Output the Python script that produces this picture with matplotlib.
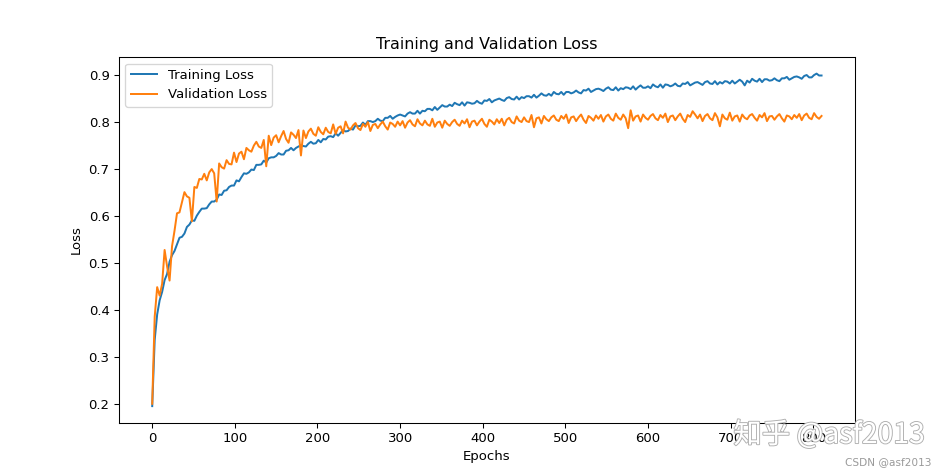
import matplotlib
matplotlib.use("Agg")
import matplotlib.pyplot as plt
import matplotlib.patheffects as pe

plt.rcParams['font.family'] = ['DejaVu Sans', 'Noto Sans CJK SC']

epochs = list(range(0, 811, 3))

training_loss = [
    0.195, 0.336, 0.390, 0.420, 0.438, 0.463, 0.476, 0.502, 0.516, 0.525,
    0.539, 0.553, 0.555, 0.562, 0.576, 0.581, 0.590, 0.589, 0.600, 0.608,
    0.615, 0.615, 0.616, 0.624, 0.630, 0.630, 0.634, 0.645, 0.644, 0.653,
    0.654, 0.661, 0.664, 0.664, 0.675, 0.673, 0.682, 0.690, 0.689, 0.692,
    0.698, 0.697, 0.708, 0.708, 0.709, 0.717, 0.713, 0.722, 0.724, 0.724,
    0.727, 0.733, 0.730, 0.730, 0.738, 0.739, 0.744, 0.739, 0.744, 0.747,
    0.750, 0.748, 0.747, 0.753, 0.757, 0.753, 0.754, 0.761, 0.756, 0.763,
    0.762, 0.768, 0.769, 0.767, 0.775, 0.770, 0.776, 0.782, 0.779, 0.780,
    0.785, 0.783, 0.792, 0.790, 0.791, 0.798, 0.793, 0.801, 0.801, 0.799,
    0.801, 0.806, 0.802, 0.801, 0.808, 0.808, 0.812, 0.806, 0.810, 0.813,
    0.815, 0.813, 0.811, 0.817, 0.820, 0.817, 0.817, 0.823, 0.817, 0.823,
    0.822, 0.827, 0.827, 0.824, 0.831, 0.825, 0.830, 0.835, 0.832, 0.832,
    0.836, 0.833, 0.840, 0.837, 0.835, 0.841, 0.834, 0.841, 0.840, 0.838,
    0.839, 0.844, 0.840, 0.838, 0.845, 0.844, 0.848, 0.841, 0.845, 0.847,
    0.849, 0.846, 0.844, 0.850, 0.852, 0.848, 0.847, 0.853, 0.847, 0.852,
    0.850, 0.854, 0.854, 0.851, 0.857, 0.851, 0.855, 0.860, 0.856, 0.855,
    0.859, 0.855, 0.863, 0.859, 0.858, 0.863, 0.857, 0.863, 0.863, 0.860,
    0.862, 0.866, 0.862, 0.860, 0.867, 0.866, 0.870, 0.863, 0.866, 0.869,
    0.870, 0.868, 0.865, 0.870, 0.873, 0.868, 0.867, 0.873, 0.866, 0.871,
    0.869, 0.873, 0.872, 0.869, 0.875, 0.868, 0.873, 0.877, 0.872, 0.872,
    0.875, 0.871, 0.879, 0.875, 0.873, 0.879, 0.872, 0.879, 0.878, 0.875,
    0.877, 0.881, 0.876, 0.875, 0.881, 0.880, 0.884, 0.877, 0.880, 0.883,
    0.884, 0.881, 0.878, 0.884, 0.886, 0.881, 0.880, 0.886, 0.879, 0.884,
    0.881, 0.886, 0.885, 0.881, 0.887, 0.881, 0.885, 0.889, 0.885, 0.877,
    0.887, 0.883, 0.891, 0.887, 0.885, 0.891, 0.884, 0.890, 0.890, 0.887,
    0.888, 0.892, 0.888, 0.886, 0.892, 0.892, 0.895, 0.889, 0.892, 0.895,
    0.896, 0.894, 0.891, 0.897, 0.899, 0.894, 0.894, 0.899, 0.902, 0.898,
    0.898,
]

validation_loss = [
    0.200, 0.385, 0.448, 0.430, 0.455, 0.527, 0.492, 0.462, 0.535, 0.568,
    0.605, 0.607, 0.629, 0.650, 0.641, 0.638, 0.588, 0.661, 0.659, 0.678,
    0.677, 0.689, 0.675, 0.692, 0.699, 0.690, 0.630, 0.711, 0.703, 0.700,
    0.718, 0.710, 0.709, 0.734, 0.714, 0.732, 0.736, 0.720, 0.744, 0.739,
    0.736, 0.749, 0.757, 0.747, 0.744, 0.761, 0.705, 0.770, 0.750, 0.766,
    0.771, 0.756, 0.769, 0.780, 0.763, 0.755, 0.777, 0.772, 0.765, 0.782,
    0.728, 0.781, 0.765, 0.779, 0.785, 0.774, 0.770, 0.788, 0.778, 0.773,
    0.787, 0.778, 0.775, 0.794, 0.774, 0.787, 0.790, 0.775, 0.800, 0.787,
    0.783, 0.792, 0.797, 0.786, 0.782, 0.795, 0.789, 0.799, 0.780, 0.793,
    0.795, 0.786, 0.794, 0.800, 0.790, 0.783, 0.798, 0.795, 0.789, 0.800,
    0.792, 0.801, 0.787, 0.798, 0.803, 0.794, 0.790, 0.805, 0.796, 0.792,
    0.802, 0.794, 0.791, 0.806, 0.789, 0.798, 0.800, 0.787, 0.802, 0.795,
    0.791, 0.799, 0.804, 0.795, 0.791, 0.802, 0.796, 0.805, 0.788, 0.800,
    0.802, 0.792, 0.800, 0.806, 0.795, 0.789, 0.804, 0.800, 0.794, 0.805,
    0.797, 0.806, 0.792, 0.804, 0.808, 0.799, 0.796, 0.811, 0.802, 0.799,
    0.809, 0.801, 0.799, 0.814, 0.788, 0.807, 0.809, 0.796, 0.812, 0.805,
    0.801, 0.809, 0.813, 0.804, 0.801, 0.812, 0.806, 0.815, 0.797, 0.809,
    0.811, 0.801, 0.809, 0.815, 0.804, 0.797, 0.812, 0.808, 0.802, 0.813,
    0.806, 0.814, 0.800, 0.811, 0.815, 0.806, 0.802, 0.817, 0.808, 0.804,
    0.815, 0.807, 0.786, 0.824, 0.802, 0.811, 0.813, 0.800, 0.815, 0.808,
    0.804, 0.812, 0.816, 0.807, 0.803, 0.814, 0.808, 0.817, 0.799, 0.811,
    0.813, 0.803, 0.811, 0.817, 0.806, 0.799, 0.814, 0.810, 0.822, 0.815,
    0.807, 0.815, 0.801, 0.812, 0.816, 0.807, 0.803, 0.818, 0.809, 0.790,
    0.815, 0.807, 0.804, 0.819, 0.802, 0.811, 0.813, 0.800, 0.815, 0.808,
    0.805, 0.813, 0.816, 0.808, 0.802, 0.814, 0.809, 0.818, 0.801, 0.811,
    0.812, 0.804, 0.811, 0.816, 0.807, 0.800, 0.813, 0.811, 0.805, 0.814,
    0.808, 0.816, 0.803, 0.813, 0.817, 0.808, 0.805, 0.818, 0.810, 0.806,
    0.812,
]

fig = plt.figure(figsize=(10, 5), dpi=95)
ax = fig.add_subplot(111)
ax.plot(epochs, training_loss, label='Training Loss')
ax.plot(epochs, validation_loss, label='Validation Loss')
ax.set_title('Training and Validation Loss')
ax.set_xlabel('Epochs')
ax.set_ylabel('Loss')
ax.legend(loc='upper left')

fig.text(0.772, 0.084, '知乎 @asf2013', fontsize=21.5, color='white',
         family=['Noto Sans CJK SC', 'DejaVu Sans'], va='center', ha='left',
         path_effects=[pe.withStroke(linewidth=1.4, foreground='#b0b0b0')])
fig.text(0.935, 0.027, 'CSDN @asf2013', fontsize=8, color='#9a9a9a',
         ha='center', va='center')

fig.savefig('out.png', dpi=95)
